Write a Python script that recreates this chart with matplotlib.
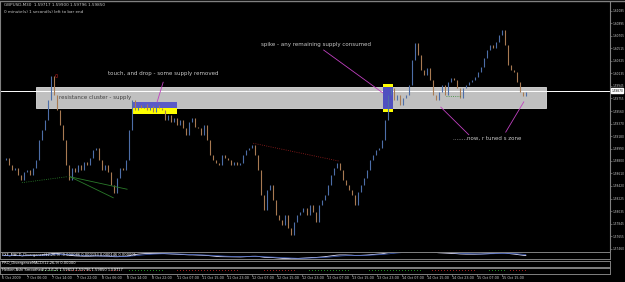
import numpy as np
import pandas as pd
import matplotlib
matplotlib.use("Agg")
import matplotlib.pyplot as plt
from matplotlib.patches import Rectangle

# hourly closes (GBPUSD)
closes = [
    1.5882, 1.5885, 1.5874, 1.5866, 1.5869, 1.5859, 1.5851, 1.5863, 1.5866, 1.5859,
    1.5869, 1.5882, 1.5912, 1.5927, 1.5942, 1.5973, 1.6009, 1.5981, 1.5958, 1.5935,
    1.5912, 1.5874, 1.5851, 1.5869, 1.5863, 1.5874, 1.5866, 1.5878, 1.5874, 1.5885,
    1.5897, 1.5900, 1.5882, 1.5866, 1.5874, 1.5863, 1.5843, 1.5831, 1.5854, 1.5869,
    1.5866, 1.5882, 1.5927, 1.5973, 1.5958, 1.5965, 1.5961, 1.5967, 1.5958, 1.5964,
    1.5955, 1.5965, 1.5961, 1.5958, 1.5942, 1.5950, 1.5939, 1.5946, 1.5935, 1.5942,
    1.5930, 1.5920, 1.5939, 1.5946, 1.5932, 1.5930, 1.5920, 1.5935, 1.5912, 1.5889,
    1.5882, 1.5877, 1.5874, 1.5889, 1.5885, 1.5882, 1.5874, 1.5878, 1.5874, 1.5877,
    1.5889, 1.5897, 1.5900, 1.5904, 1.5889, 1.5866, 1.5828, 1.5805, 1.5836, 1.5843,
    1.5821, 1.5798, 1.5790, 1.5783, 1.5798, 1.5778, 1.5767, 1.5787, 1.5798, 1.5802,
    1.5808, 1.5798, 1.5813, 1.5802, 1.5787, 1.5813, 1.5821, 1.5828, 1.5843, 1.5859,
    1.5869, 1.5877, 1.5866, 1.5851, 1.5843, 1.5836, 1.5828, 1.5813, 1.5833, 1.5843,
    1.5854, 1.5866, 1.5882, 1.5889, 1.5897, 1.5900, 1.5912, 1.5942, 1.5981, 1.5991,
    1.5973, 1.5981, 1.5965, 1.5976, 1.5981, 1.5996, 1.6034, 1.6060, 1.6041, 1.6019,
    1.6011, 1.6022, 1.6003, 1.5981, 1.5973, 1.5985, 1.5996, 1.5981, 1.6000, 1.6006,
    1.6003, 1.5991, 1.5976, 1.5991, 1.5996, 1.6000, 1.6003, 1.6008, 1.6016, 1.6023,
    1.6037, 1.6049, 1.6057, 1.6052, 1.6061, 1.6072, 1.6080, 1.6057, 1.6026, 1.6019,
    1.6016, 1.6000, 1.5985, 1.5979, 1.5985,
]

price_ticks = [1.61085, 1.60895, 1.60705, 1.60515, 1.60325, 1.60135, 1.59945,
               1.59755, 1.59560, 1.59370, 1.59180, 1.58990, 1.58800, 1.58610,
               1.58420, 1.58225, 1.58035, 1.57845, 1.57655, 1.57460]

date_labels = ["6 Oct 2009", "7 Oct 06:00", "7 Oct 14:00", "7 Oct 22:00",
               "8 Oct 06:00", "8 Oct 14:00", "8 Oct 22:00", "11 Oct 07:00",
               "11 Oct 15:00", "11 Oct 23:00", "12 Oct 07:00", "12 Oct 15:00",
               "12 Oct 23:00", "13 Oct 07:00", "13 Oct 15:00", "13 Oct 23:00",
               "14 Oct 07:00", "14 Oct 15:00", "14 Oct 23:00", "15 Oct 07:00",
               "15 Oct 15:00"]

bid = 1.5987
header = "GBPUSD,M30  1.59717 1.59900 1.59796 1.59850"
timer = "0 minute(s) 1 second(s) left to bar end"

# supply zone and marked boxes (bar index, price)
zone = (11, 180.7, 1.5961, 1.5993)
touch_box = (43.3, 58, 1.5952, 1.5961, 1.5970)
spike_box = (126.5, 129.9, 1.5959, 1.5993)

W, H = 625, 282
BG = "black"
GRID = "#808080"
UP = "#4d6ea8"
DOWN = "#a87a52"
TXT = "#c8c8c8"

closes = np.array(closes)
opens = np.r_[closes[0], closes[:-1]]
x = np.arange(len(closes))

fig = plt.figure(figsize=(W / 100, H / 100), dpi=100, facecolor=BG)

def box(x0, y0, x1, y1):
    return [x0 / W, 1 - y1 / H, (x1 - x0) / W, (y1 - y0) / H]

ax = fig.add_axes(box(0, 2, 610, 251), facecolor=BG)
ax.set_xlim(-1, 609 / 3 - 1)
ax.set_ylim(1.61252 - 0.0001523 * 251, 1.61252 - 0.0001523 * 2)

# zone behind the bars
ax.add_patch(Rectangle((zone[0], zone[2]), zone[1] - zone[0], zone[3] - zone[2],
                       facecolor="#c0c0c0", edgecolor="#dcdcdc", lw=0.6, zorder=1))
ax.add_patch(Rectangle((touch_box[0], touch_box[2]), touch_box[1] - touch_box[0],
                       touch_box[3] - touch_box[2], facecolor="#ffff00", lw=0, zorder=2))
ax.add_patch(Rectangle((touch_box[0], touch_box[3]), touch_box[1] - touch_box[0],
                       touch_box[4] - touch_box[3], facecolor="#5a5ac8", lw=0, zorder=2))
sw = spike_box[1] - spike_box[0]
ax.add_patch(Rectangle((spike_box[0], spike_box[2]), sw,
                       spike_box[3] - spike_box[2], facecolor="#5050c0", lw=0, zorder=2))
ax.add_patch(Rectangle((spike_box[0], spike_box[3]), sw, 0.00045,
                       facecolor="#ffff00", lw=0, zorder=2))
ax.add_patch(Rectangle((spike_box[0], spike_box[2] - 0.00045), sw, 0.00045,
                       facecolor="#ffff00", lw=0, zorder=2))

ax.axhline(bid, color="white", lw=0.7, zorder=1.5)

colors = np.where(closes >= opens, UP, DOWN)
ax.vlines(x, np.minimum(opens, closes), np.maximum(opens, closes),
          colors=colors, lw=0.8, zorder=3)

# trend lines
ax.plot([6.3, 21.3], [1.5847, 1.5856], color="#2e8b2e", lw=0.6, ls=":", zorder=3)
ax.plot([22.3, 41.3], [1.5856, 1.5837], color="#2a7a2a", lw=0.6, zorder=3)
ax.plot([22.3, 36.7], [1.5856, 1.5824], color="#2a7a2a", lw=0.6, zorder=3)
ax.plot([83.3, 111.7], [1.5907, 1.5880], color="#a02020", lw=0.6, ls=":", zorder=3)
ax.plot([147.3, 152.3], [1.5979, 1.5979], color="#2e8b2e", lw=0.6, ls=":", zorder=3)

# annotations
mag = "#c040c0"
ax.plot([53.3, 51.3], [1.6000, 1.5970], color=mag, lw=0.6, zorder=4)
ax.plot([106.7, 126.3], [1.6049, 1.5984], color=mag, lw=0.6, zorder=4)
ax.plot([145.7, 155], [1.5962, 1.5920], color=mag, lw=0.6, zorder=4)
ax.plot([173.3, 167.3], [1.5970, 1.5924], color=mag, lw=0.6, zorder=4)
fs = 4
ax.text(35, 1.6013, "touch, and drop - some supply removed", color=TXT,
        fontsize=fs, va="center", zorder=5)
ax.text(85.7, 1.6058, "spike - any remaining supply consumed", color=TXT,
        fontsize=fs, va="center", zorder=5)
ax.text(18.7, 1.5976, "resistance cluster - supply", color="#404040",
        fontsize=fs, va="center", zorder=5)
ax.text(149.7, 1.5914, "........now, r tuned s zone", color=TXT,
        fontsize=fs, va="center", zorder=5)
ax.text(17.3, 1.6008, "0", color="#d02020", fontsize=3.5, va="center", zorder=5)

ax.yaxis.tick_right()
ax.set_yticks(price_ticks)
ax.set_yticklabels([f"{p:.5f}" for p in price_ticks])
ax.tick_params(axis="y", colors=GRID, labelcolor=TXT, labelsize=2.1, length=1.5,
               width=0.5, pad=0.5)
ax.set_xticks([])
for s in ["top", "bottom"]:
    ax.spines[s].set_visible(False)
ax.spines["left"].set_color(GRID)
ax.spines["right"].set_color(GRID)
ax.spines["left"].set_linewidth(0.8)
ax.spines["right"].set_linewidth(0.8)

ax.text(609 / 3 - 1 + 0.4, bid, "1.59870", color="black", fontsize=2.1, va="center",
        ha="left", bbox=dict(facecolor="white", edgecolor="white", pad=0.3),
        zorder=6, clip_on=False)

fig.text(4 / W, 1 - 5 / H, header, color=TXT, fontsize=3, va="center")
fig.text(4 / W, 1 - 12 / H, timer, color=TXT, fontsize=3, va="center")
fig.add_artist(plt.Line2D([0, 1], [1 - 1 / H, 1 - 1 / H], color=GRID, lw=1))

# indicator windows
ema_fast = pd.Series(closes).ewm(span=12).mean()
ema_slow = pd.Series(closes).ewm(span=26).mean()
macd = (ema_fast - ema_slow).values
sig = pd.Series(macd).ewm(span=9).mean().values
step = np.sign(np.diff(closes, prepend=closes[0]))

subs = [(252, 259), (261, 267), (268, 274)]
names = ["FXF_MACD_Divergence(12,26,9) -0.000086 0.000193 0.000146 0.000001",
         "PRO_DivergenceMACD(12,26,9) 0.00000",
         "Heiken Ashi Smoothed(2,3,6,2) 1.59813 1.59796 1.59850 1.59717"]
for k, (y0, y1) in enumerate(subs):
    sa = fig.add_axes(box(0, y0, 610, y1), facecolor=BG)
    sa.set_xlim(ax.get_xlim())
    sa.set_xticks([])
    sa.set_yticks([])
    for s in sa.spines.values():
        s.set_color(GRID)
        s.set_linewidth(0.7)
    if k == 0:
        sa.plot(x, macd, color="#e0e0ff", lw=0.6)
        sa.plot(x, sig, color="#4060c0", lw=0.5)
        sa.set_ylim(-0.0035, 0.0035)
    elif k == 1:
        sa.set_ylim(0, 3)
        for r in (1, 2):
            sa.scatter(x, np.full(len(x), r), s=0.25, marker="s", lw=0,
                       c=np.where(step > 0, "#607090", "#505050"))
    else:
        sa.set_ylim(0, 3)
        trend = macd - sig
        strong = np.abs(trend) > 0.0003
        hc = np.where(trend > 0, "#208a20", "#a02020")
        sa.scatter(x[strong], np.full(strong.sum(), 1.6), s=0.5, marker="s",
                   lw=0, c=hc[strong])
        sa.scatter(x, np.full(len(x), 0.9), s=0.25, marker="s", lw=0, c="#3a5590")
    sa.text(0.004, 0.6, names[k], transform=sa.transAxes, color="white",
            fontsize=2.6, va="center")

# time axis
for i, lab in enumerate(date_labels):
    px = 2 + 25 * i
    fig.text(px / W, 1 - 278 / H, lab, color=TXT, fontsize=2.4, va="center")
    fig.add_artist(plt.Line2D([px / W, px / W], [1 - 274 / H, 1 - 276 / H],
                              color=GRID, lw=0.5))

fig.savefig("out.png", dpi=100, facecolor=BG)
